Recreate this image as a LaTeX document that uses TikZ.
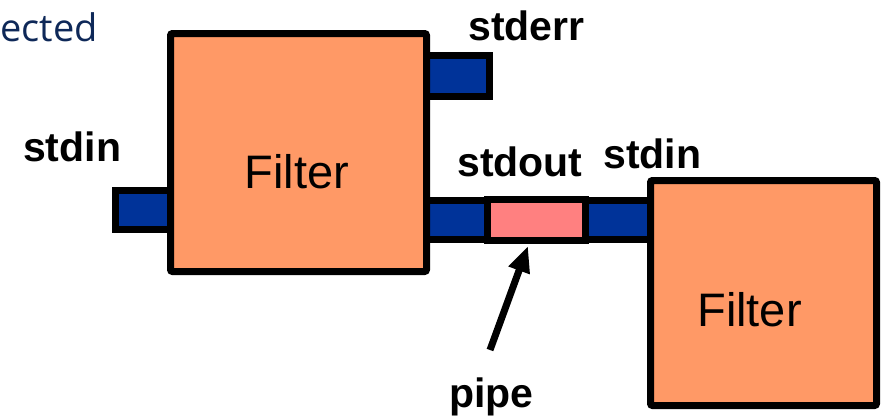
\documentclass[tikz,border=0pt]{standalone}
\usepackage{fontspec}
\setmainfont{Liberation Sans}
\newfontfamily\ofont{Open Sans}
\usetikzlibrary{arrows.meta}
\definecolor{boxorange}{RGB}{255,153,102}
\definecolor{portblue}{RGB}{0,51,153}
\definecolor{pipepink}{RGB}{255,128,128}
\definecolor{titleblue}{RGB}{14,40,88}
\tikzset{
  filterbox/.style={draw=black, line width=7pt, fill=boxorange, rounded corners=2pt, inner sep=0pt, outer sep=0pt},
  portbox/.style={draw=black, line width=7pt, fill=portblue, inner sep=0pt, outer sep=0pt},
  pipebox/.style={draw=black, line width=7pt, fill=pipepink, inner sep=0pt, outer sep=0pt},
  lbl/.style={font=\fontsize{41}{48}\selectfont\bfseries, anchor=base west, inner sep=0pt},
  ftxt/.style={font=\fontsize{47}{54}\selectfont, anchor=base, inner sep=0pt},
}
\begin{document}
\begin{tikzpicture}[x=1pt,y=-1pt]
\useasboundingbox (0,0) rectangle (881,418);
\node[font=\ofont\fontsize{38}{44}\selectfont, text=titleblue, anchor=base west, inner sep=0pt] (title) at (0,41) {ected};
% ports (behind boxes)
\node[portbox, minimum width=80, minimum height=41.5] (stderrp) at (449.5,76) {};
\node[portbox, minimum width=75, minimum height=39] (stdinp) at (153,210) {};
\node[portbox, minimum width=76, minimum height=39] (stdoutp) at (450,220) {};
\node[portbox, minimum width=70, minimum height=39] (stdin2p) at (620,220) {};
\node[pipebox, minimum width=97.5, minimum height=41] (pipe) at (536.25,219.5) {};
% filters
\node[filterbox, minimum width=256, minimum height=238] (f1) at (298.5,152.5) {};
\node[filterbox, minimum width=226, minimum height=225] (f2) at (763.5,293) {};
\node[ftxt] (f1t) at (297,188) {Filter};
\node[ftxt] (f2t) at (749.5,326) {Filter};
% labels
\node[lbl] (lstdin) at (23,161) {stdin};
\node[lbl] (lstderr) at (468,40) {stderr};
\node[lbl] (lstdout) at (457,176) {stdout};
\node[lbl] (lstdin2) at (603,168) {stdin};
\node[lbl] (lpipe) at (449,407) {pipe};
% arrow
\coordinate (atail) at (490,350);
\coordinate (atip) at (528,246);
\draw[line width=7pt, -{Triangle[length=26pt,width=21pt]}] (atail) -- (atip);
\end{tikzpicture}
\end{document}
